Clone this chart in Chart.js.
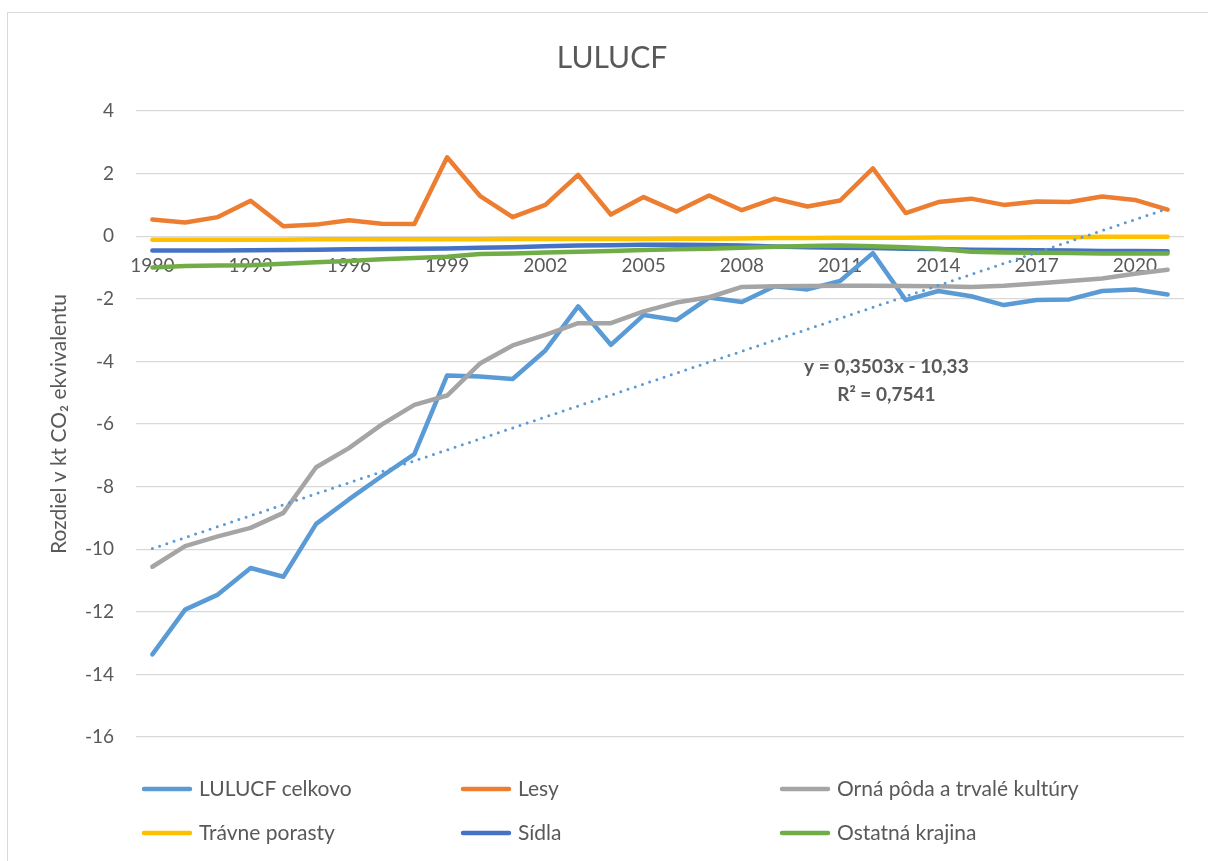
<!DOCTYPE html>
<html>
<head>
<meta charset="utf-8">
<script src="https://cdn.jsdelivr.net/npm/chart.js@4.4.1/dist/chart.umd.min.js"></script>
<style>
  html, body { margin: 0; padding: 0; background: #fff; overflow: hidden; }
  #wrap { position: relative; width: 1208px; height: 861px; overflow: hidden; }
  #frame { position: absolute; left: 7px; top: 12px; width: 1400px; height: 1000px; border: 1px solid #d9d9d9; }
  #c { position: absolute; left: 0; top: 0; }
</style>
</head>
<body>
<div id="wrap">
  <div id="frame"></div>
  <canvas id="c" width="1208" height="861"></canvas>
</div>
<script>
// ---- data ----
const years = ['1990','1991','1992','1993','1994','1995','1996','1997','1998','1999','2000','2001','2002','2003','2004','2005','2006','2007','2008','2009','2010','2011','2012','2013','2014','2015','2016','2017','2018','2019','2020','2021'];
const xTickStep = 3;

const lulucfCelkovo = [-13.36, -11.93, -11.45, -10.6, -10.88, -9.19, -8.41, -7.67, -6.96, -4.45, -4.48, -4.56, -3.65, -2.24, -3.47, -2.52, -2.68, -1.96, -2.1, -1.6, -1.7, -1.43, -0.54, -2.04, -1.75, -1.92, -2.2, -2.04, -2.02, -1.75, -1.7, -1.86];
const lesy = [0.53, 0.44, 0.61, 1.13, 0.32, 0.37, 0.51, 0.4, 0.39, 2.52, 1.29, 0.61, 1.0, 1.96, 0.69, 1.25, 0.79, 1.3, 0.83, 1.2, 0.95, 1.14, 2.17, 0.74, 1.09, 1.2, 1.0, 1.11, 1.09, 1.27, 1.16, 0.85];
const ornaPoda = [-10.56, -9.9, -9.59, -9.32, -8.84, -7.38, -6.77, -6.02, -5.39, -5.09, -4.07, -3.49, -3.15, -2.78, -2.78, -2.4, -2.12, -1.95, -1.62, -1.6, -1.59, -1.58, -1.58, -1.59, -1.6, -1.62, -1.58, -1.51, -1.43, -1.35, -1.2, -1.07];
const travnePorasty = [-0.11, -0.11, -0.11, -0.11, -0.11, -0.1, -0.1, -0.1, -0.1, -0.1, -0.1, -0.09, -0.09, -0.09, -0.09, -0.09, -0.08, -0.08, -0.07, -0.06, -0.06, -0.05, -0.05, -0.05, -0.04, -0.04, -0.04, -0.03, -0.03, -0.02, -0.02, -0.02];
const sidla = [-0.46, -0.46, -0.46, -0.45, -0.44, -0.43, -0.42, -0.41, -0.4, -0.39, -0.37, -0.35, -0.32, -0.3, -0.29, -0.27, -0.27, -0.28, -0.3, -0.33, -0.35, -0.37, -0.38, -0.4, -0.41, -0.43, -0.44, -0.45, -0.46, -0.47, -0.47, -0.48];
const ostatnaKrajina = [-1.0, -0.95, -0.94, -0.93, -0.88, -0.83, -0.79, -0.74, -0.7, -0.66, -0.57, -0.55, -0.52, -0.5, -0.47, -0.44, -0.42, -0.4, -0.37, -0.34, -0.31, -0.3, -0.32, -0.35, -0.4, -0.5, -0.52, -0.53, -0.54, -0.55, -0.55, -0.55];

// linear trendline of LULUCF celkovo: values at first and last year
const trendStart = -9.98;
const trendEnd = 0.88;
const trendLabel = ['y = 0,3503x - 10,33', 'R² = 0,7541'];

const seriesNames = ['LULUCF celkovo', 'Lesy', 'Orná pôda a trvalé kultúry', 'Trávne porasty', 'Sídla', 'Ostatná krajina'];
const seriesColors = ['#5B9BD5', '#ED7D31', '#A5A5A5', '#FFC000', '#4472C4', '#70AD47'];
const seriesValues = [lulucfCelkovo, lesy, ornaPoda, travnePorasty, sidla, ostatnaKrajina];

const yMin = -16, yMax = 4, yStep = 2;
const chartTitle = 'LULUCF';
const yTitle = 'Rozdiel v kt CO₂ ekvivalentu';

// ---- chart ----
const FONT = 'Lato';
const TXT = '#595959';

const trendData = years.map((_, i) => i === 0 ? trendStart : (i === years.length - 1 ? trendEnd : null));

const datasets = seriesValues.map((vals, i) => ({
  label: seriesNames[i],
  data: vals,
  borderColor: seriesColors[i],
  backgroundColor: seriesColors[i],
  borderWidth: 4.5,
  pointRadius: 0,
  tension: 0,
  borderJoinStyle: 'round',
  borderCapStyle: 'round',
  fill: false,
  order: 10 - i
}));
datasets.push({
  label: 'trend',
  data: trendData,
  spanGaps: true,
  borderColor: seriesColors[0],
  borderWidth: 3,
  borderDash: [0, 7.6],
  borderCapStyle: 'round',
  pointRadius: 0,
  fill: false,
  order: 0
});

const overlay = {
  id: 'overlay',
  afterDraw(chart) {
    const ctx = chart.ctx;
    ctx.save();
    // legend
    const cols = [142, 461, 780];
    const rows = [789, 833];
    ctx.font = '21px ' + FONT;
    ctx.textBaseline = 'middle';
    ctx.textAlign = 'left';
    seriesNames.forEach((name, i) => {
      const x = cols[i % 3];
      const y = rows[Math.floor(i / 3)];
      ctx.strokeStyle = seriesColors[i];
      ctx.lineWidth = 4.5;
      ctx.lineCap = 'round';
      ctx.beginPath();
      ctx.moveTo(x + 2, y);
      ctx.lineTo(x + 48, y);
      ctx.stroke();
      ctx.fillStyle = TXT;
      ctx.fillText(name, x + 57, y);
    });
    // trendline equation
    const a = chart.chartArea;
    ctx.font = 'bold 19px ' + FONT;
    ctx.textAlign = 'center';
    ctx.fillStyle = TXT;
    const cx = a.left + (a.right - a.left) * 0.716;
    ctx.fillText(trendLabel[0], cx, 367);
    ctx.fillText(trendLabel[1], cx, 395);
    ctx.restore();
  }
};

new Chart(document.getElementById('c'), {
  type: 'line',
  data: { labels: years, datasets },
  options: {
    responsive: false,
    animation: false,
    events: [],
    layout: { padding: { left: 40, right: 24, top: 0, bottom: 124 } },
    plugins: {
      legend: { display: false },
      tooltip: { enabled: false },
      title: {
        display: true,
        text: chartTitle,
        color: TXT,
        font: { family: FONT, size: 30, weight: 'normal' },
        padding: { top: 40, bottom: 35 }
      }
    },
    scales: {
      x: {
        type: 'category',
        offset: true,
        position: { y: 0 },
        grid: { display: false, drawTicks: false },
        border: { display: false },
        ticks: {
          autoSkip: false,
          maxRotation: 0,
          minRotation: 0,
          padding: 18,
          color: TXT,
          font: { family: FONT, size: 19 },
          callback: function (v, i) { return i % xTickStep === 0 ? this.getLabelForValue(v) : ''; }
        }
      },
      y: {
        min: yMin,
        max: yMax,
        ticks: { stepSize: yStep, padding: 22, color: TXT, font: { family: FONT, size: 19 } },
        grid: { color: '#d9d9d9', lineWidth: 1.3, drawTicks: false },
        border: { display: false },
        title: {
          display: true,
          text: yTitle,
          color: TXT,
          font: { family: FONT, size: 21, weight: 'normal' },
          padding: { top: 7, bottom: 0 }
        },
        afterFit(scale) { scale.width = 96; }
      }
    }
  },
  plugins: [overlay]
});
</script>
</body>
</html>
